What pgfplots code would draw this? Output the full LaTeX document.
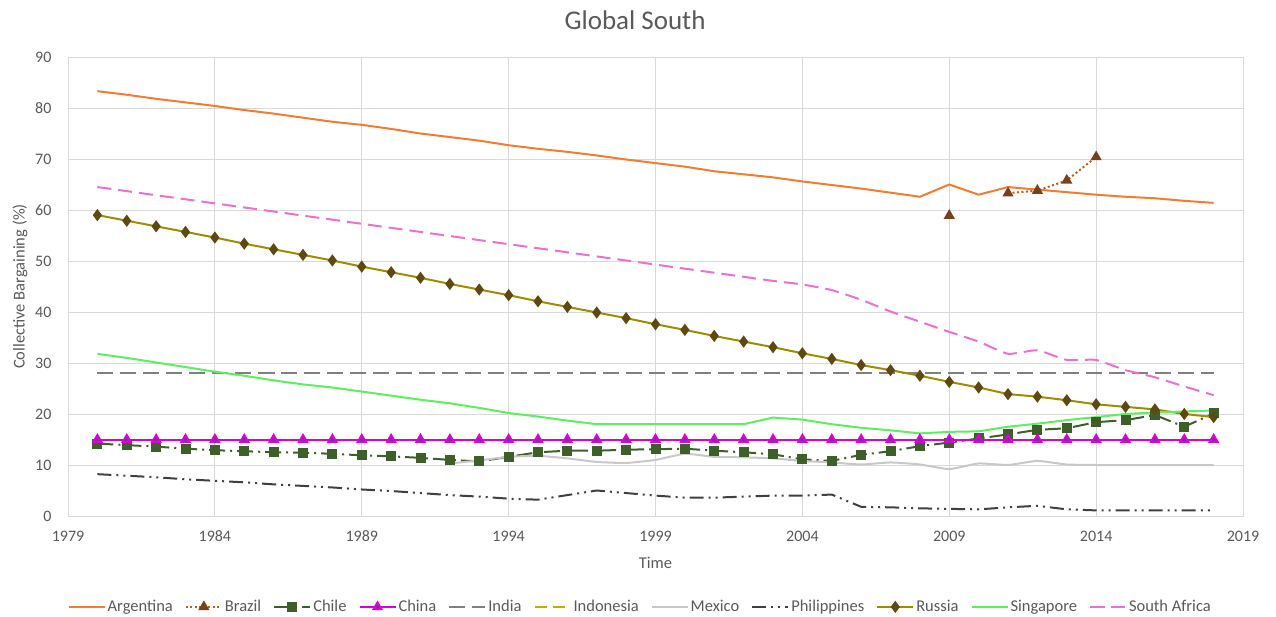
\documentclass[border=0pt]{standalone}
\usepackage{pgfplots}
\pgfplotsset{compat=1.18}
\usepackage{pgfplotstable}
\usepackage{fontspec}
\setmainfont{Carlito}
\definecolor{gridc}{HTML}{D9D9D9}
\definecolor{labc}{HTML}{595959}
\definecolor{argc}{HTML}{F47B30}
\definecolor{brac}{HTML}{C55A11}
\definecolor{bram}{HTML}{7B3F1A}
\definecolor{chlc}{HTML}{3F5F2A}
\definecolor{chnc}{HTML}{DD00DD}
\definecolor{chnm}{HTML}{6B3A8C}
\definecolor{indc}{HTML}{808080}
\definecolor{idnc}{HTML}{BFB000}
\definecolor{mexc}{HTML}{C8C8C8}
\definecolor{phic}{HTML}{404040}
\definecolor{rusc}{HTML}{A08C00}
\definecolor{rusm}{HTML}{5E4A10}
\definecolor{sgpc}{HTML}{5CF05C}
\definecolor{zafc}{HTML}{EE6FCF}

\pgfplotstableread{
year arg bra chl chn ind mex phi rus sgp zaf
1980 83.3 nan 14.2 15 28 nan 8.2 59.0 31.8 64.5
1981 82.6 nan 13.9 15 28 nan 7.9 57.9 31.0 63.7
1982 81.8 nan 13.6 15 28 nan 7.6 56.8 30.1 62.9
1983 81.1 nan 13.2 15 28 nan 7.2 55.7 29.2 62.1
1984 80.4 nan 12.9 15 28 nan 6.9 54.6 28.3 61.3
1985 79.6 nan 12.7 15 28 nan 6.6 53.4 27.5 60.5
1986 78.9 nan 12.5 15 28 nan 6.2 52.3 26.6 59.7
1987 78.1 nan 12.4 15 28 nan 5.9 51.2 25.8 58.9
1988 77.3 nan 12.2 15 28 nan 5.6 50.1 25.2 58.1
1989 76.7 nan 11.9 15 28 nan 5.2 48.9 24.4 57.3
1990 75.9 nan 11.7 15 28 nan 4.9 47.8 23.6 56.5
1991 75.0 nan 11.4 15 28 nan 4.5 46.7 22.8 55.7
1992 74.3 nan 11.0 15 28 10.3 4.1 45.5 22.1 54.9
1993 73.6 nan 10.7 15 28 10.9 3.8 44.4 21.2 54.1
1994 72.7 nan 11.6 15 28 11.6 3.4 43.3 20.2 53.3
1995 72.0 nan 12.5 15 28 11.8 3.2 42.1 19.5 52.5
1996 71.4 nan 12.8 15 28 11.3 4.1 41.0 18.7 51.7
1997 70.7 nan 12.8 15 28 10.6 5.0 39.9 18.0 50.9
1998 69.9 nan 13.0 15 28 10.4 4.5 38.8 18.0 50.1
1999 69.2 nan 13.1 15 28 11.0 4.0 37.6 18.0 49.3
2000 68.5 nan 13.2 15 28 12.2 3.6 36.5 18.0 48.5
2001 67.6 nan 12.8 15 28 11.6 3.6 35.3 18.0 47.7
2002 67.0 nan 12.5 15 28 11.5 3.8 34.2 18.0 46.9
2003 66.4 nan 12.1 15 28 11.3 4.0 33.1 19.3 46.1
2004 65.6 nan 11.1 15 28 10.8 4.0 31.9 18.9 45.4
2005 64.9 nan 10.8 15 28 10.5 4.2 30.8 18.0 44.3
2006 64.2 nan 12.0 15 28 10.1 1.8 29.6 17.3 42.4
2007 63.4 nan 12.7 15 28 10.5 1.7 28.6 16.8 40.1
2008 62.6 nan 13.7 15 28 10.1 1.5 27.5 16.2 38.1
2009 65.0 58.9 14.4 15 28 9.2 1.4 26.3 16.5 36.1
2010 63.0 nan 15.2 15 28 10.3 1.3 25.2 16.6 34.2
2011 64.5 63.3 16.0 15 28 10.0 1.7 23.9 17.5 31.8
2012 64.0 63.8 16.9 15 28 10.8 2.0 23.4 18.1 32.5
2013 63.5 65.8 17.2 15 28 10.1 1.3 22.7 18.8 30.6
2014 63.0 70.4 18.4 15 28 10.0 1.1 21.9 19.4 30.6
2015 62.6 nan 18.8 15 28 10.0 1.1 21.4 20.0 28.6
2016 62.3 nan 19.8 15 28 10.0 1.1 20.9 20.3 27.2
2017 61.8 nan 17.5 15 28 10.0 1.1 20.0 20.5 25.4
2018 61.4 nan 20.1 15 28 10.0 1.1 19.4 20.7 23.7
}\data

\begin{document}
\begin{tikzpicture}[x=1pt,y=1pt]
\path[use as bounding box] (0,0) rectangle (1276,616);
\begin{axis}[
  at={(68pt,100pt)}, anchor=south west, scale only axis,
  width=1175pt, height=459pt,
  xmin=1979, xmax=2019, ymin=0, ymax=90,
  xtick={1979,1984,...,2019}, ytick={0,10,...,90},
  grid=major, grid style={line width=0.8pt, color=gridc},
  axis line style={gridc, line width=0.8pt},
  tick style={draw=none},
  ticklabel style={font=\fontsize{16}{16}\selectfont, text=labc},
  xticklabel style={anchor=center, yshift=-20pt},
  yticklabel style={anchor=east, xshift=-13pt},
  /pgf/number format/assume math mode=true,
  /pgf/number format/set thousands separator={},
  xlabel={Time}, ylabel={Collective Bargaining (\%)},
  xlabel style={at={(axis description cs:0.5,-0.1024)}, anchor=center, font=\fontsize{16.5}{16.5}\selectfont, text=labc},
  ylabel style={at={(axis description cs:-0.0409,0.5)}, anchor=center, font=\fontsize{16.5}{16.5}\selectfont, text=labc},
  title={Global South},
  title style={at={(axis description cs:0.4826,1.068)}, anchor=center, font=\fontsize{27}{27}\selectfont, text=labc},
  unbounded coords=jump,
  legend columns=11,
  legend cell align=left,
  legend image code/.code={\draw[mark repeat=2,mark phase=2,#1] plot coordinates {(0pt,0pt) (18pt,0pt) (36pt,0pt)};},
  legend style={at={(axis description cs:0.487,-0.198)}, anchor=center, draw=none, fill=none,
    font=\fontsize{16.5}{16.5}\selectfont, text=labc,
    /tikz/every even column/.append style={column sep=10pt}},
]
\addplot[argc, line width=2pt, no markers] table[x=year,y=arg]{\data};
\addlegendentry{Argentina}
\addplot[brac, line width=2pt, dash pattern=on 2pt off 2.5pt, mark=triangle*, mark size=4.5pt, mark options={solid, fill=bram, draw=bram}] table[x=year,y=bra]{\data};
\addlegendentry{Brazil}
\addplot[chlc, line width=2pt, dash pattern=on 16pt off 5pt on 2pt off 5pt, mark=square*, mark size=4pt, mark options={solid, fill=chlc, draw=chlc}] table[x=year,y=chl]{\data};
\addlegendentry{Chile}
\addplot[chnc, line width=2pt, mark=triangle*, mark size=4.5pt, mark options={fill=chnm, draw=chnc}] table[x=year,y=chn]{\data};
\addlegendentry{China}
\addplot[indc, line width=2pt, dash pattern=on 16pt off 7pt, no markers] table[x=year,y=ind]{\data};
\addlegendentry{India}
\addlegendimage{idnc, line width=2pt, dash pattern=on 12pt off 6pt, no markers}
\addlegendentry{Indonesia}
\addplot[mexc, line width=2pt, smooth, tension=0.3, no markers] table[x=year,y=mex]{\data};
\addlegendentry{Mexico}
\addplot[phic, line width=2pt, dash pattern=on 14pt off 5pt on 2pt off 5pt on 2pt off 5pt, no markers] table[x=year,y=phi]{\data};
\addlegendentry{Philippines}
\addplot[rusc, line width=2pt, mark=diamond*, mark size=4.5pt, mark options={fill=rusm, draw=rusm}] table[x=year,y=rus]{\data};
\addlegendentry{Russia}
\addplot[sgpc, line width=2pt, no markers] table[x=year,y=sgp]{\data};
\addlegendentry{Singapore}
\addplot[zafc, line width=2pt, dash pattern=on 14pt off 7pt, smooth, tension=0.3, no markers] table[x=year,y=zaf]{\data};
\addlegendentry{South Africa}
\end{axis}
\end{tikzpicture}
\end{document}
